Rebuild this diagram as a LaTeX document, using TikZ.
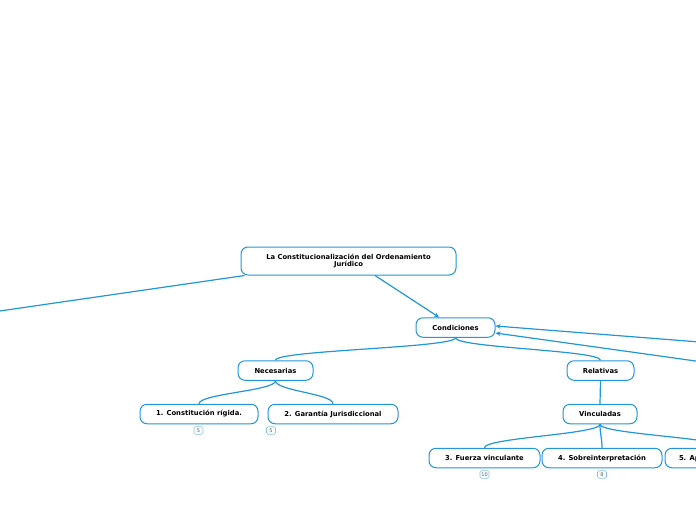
\documentclass[tikz,border=0pt]{standalone}
\usepackage{fontspec}
\setmainfont{DejaVu Sans}
\usetikzlibrary{arrows.meta}
\definecolor{mapblue}{RGB}{33,150,220}
\definecolor{badgeblue}{RGB}{130,196,236}
\definecolor{badgetext}{RGB}{90,90,90}

\tikzset{
  topic/.style={draw=mapblue, line width=1pt, fill=white, rounded corners=7pt,
    minimum height=19.5pt, inner sep=1pt, align=center,
    font=\bfseries\fontsize{6.8}{7.8}\selectfont},
  link/.style={draw=mapblue, line width=1.2pt},
  badge/.style={draw=badgeblue, line width=0.6pt, rounded corners=1.5pt,
    minimum width=9pt, minimum height=7.5pt, inner sep=0.8pt, text=badgetext,
    font=\fontsize{5}{5.5}\selectfont}
}

\begin{document}
\begin{tikzpicture}[x=1pt, y=-1pt]
  \useasboundingbox (0,0) rectangle (696,520);
  \clip (0,0) rectangle (696,520);

  % ----- Topics -----
  \node[topic, minimum width=215pt, minimum height=28pt] (root) at (348.5,261)
    {La Constitucionalización del Ordenamiento\\Jurídico};
  \node[topic, minimum width=79pt] (cond) at (455.5,327.5) {Condiciones};
  \node[topic, minimum width=75pt] (nec) at (275.5,370.5) {Necesarias};
  \node[topic, minimum width=67pt] (rel) at (600.5,370.5) {Relativas};
  \node[topic, minimum width=118pt] (rigida) at (199,414) {1. Constitución rígida.};
  \node[topic, minimum width=130pt] (garantia) at (333,414) {2. Garantía Jurisdiccional};
  \node[topic, minimum width=74pt] (vinc) at (600,414) {Vinculadas};
  \node[topic, minimum width=111pt] (fuerza) at (484.5,458) {3. Fuerza vinculante};
  \node[topic, minimum width=120pt] (sobre) at (602,458) {4. Sobreinterpretación};
  \node[topic, text width=92pt, inner xsep=14pt, align=left] (aplic) at (725,458) {5. Aplicación directa};

  % ----- Badges -----
  \node[badge] (b1) at (198.5,430.5) {5};
  \node[badge] (b2) at (271,430.5) {5};
  \node[badge] (b3) at (484.5,474.5) {10};
  \node[badge] (b4) at (602,474.5) {8};

  % ----- Free ends beyond the page -----
  \coordinate (offleft) at (-30,315.3);
  \coordinate (offright1) at (720,343.6);
  \coordinate (offright2) at (720,364.4);

  % ----- Connectors -----
  \draw[link] ([xshift=4pt]root.south west) -- (offleft);
  \draw[link, -{Stealth[length=5pt, width=4.5pt]}] ([xshift=26.5pt]root.south) -- ([xshift=-16.5pt]cond.north);
  \draw[link, -{Stealth[length=5pt, width=4.5pt]}] (offright1) -- ([yshift=1.5pt]cond.east);
  \draw[link, -{Stealth[length=5pt, width=4.5pt]}] (offright2) -- ([yshift=-5.5pt]cond.east);

  % Tree branches
  \foreach \from/\to in {cond/nec, cond/rel, nec/rigida, nec/garantia,
                         vinc/fuerza, vinc/sobre, vinc/aplic} {
    \draw[link] (\from.south) .. controls +(0,10) and +(0,-10) .. (\to.north);
  }
  \draw[link] (rel.south) -- (vinc.north);

\end{tikzpicture}
\end{document}
